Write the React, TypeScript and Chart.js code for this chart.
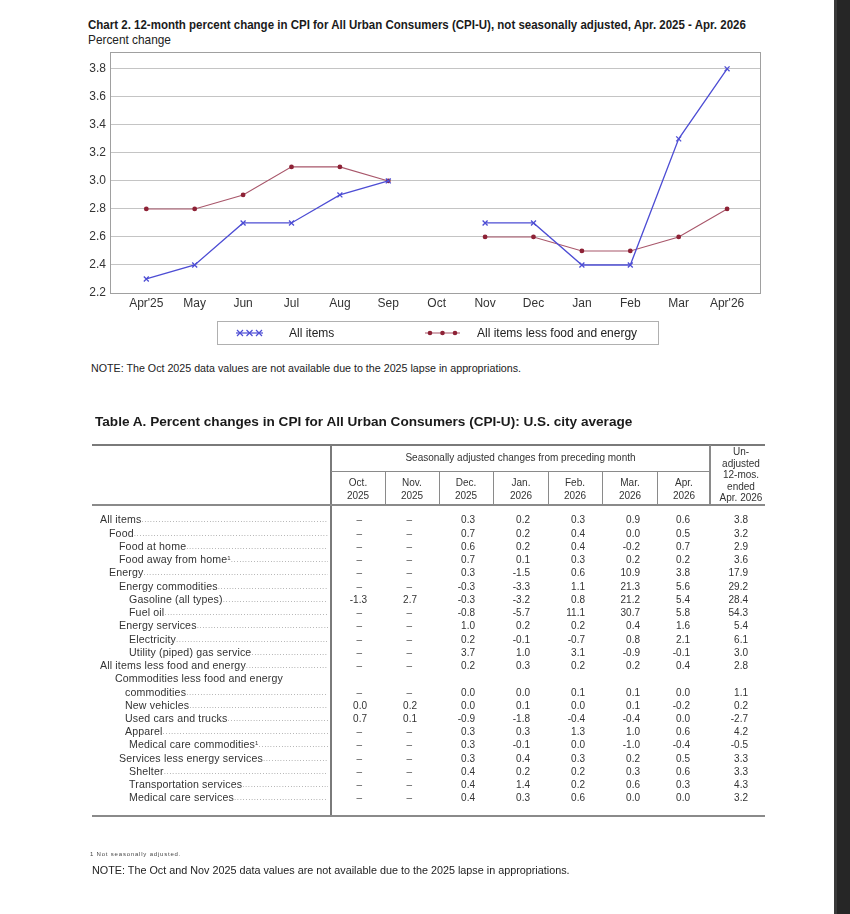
import React, { useEffect, useRef } from "react";
import { Chart, registerables } from "chart.js";

Chart.register(...registerables);

const months = ["Apr'25", "May", "Jun", "Jul", "Aug", "Sep", "Oct", "Nov", "Dec", "Jan", "Feb", "Mar", "Apr'26"];
const allItems = [2.3, 2.4, 2.7, 2.7, 2.9, 3.0, null, 2.7, 2.7, 2.4, 2.4, 3.3, 3.8];
const coreItems = [2.8, 2.8, 2.9, 3.1, 3.1, 3.0, null, 2.6, 2.6, 2.5, 2.5, 2.6, 2.8];
const yTicks = [2.2, 2.4, 2.6, 2.8, 3.0, 3.2, 3.4, 3.6, 3.8];

const rowLabels = [
  "All items", "Food", "Food at home", "Food away from home¹", "Energy", "Energy commodities",
  "Gasoline (all types)", "Fuel oil", "Energy services", "Electricity", "Utility (piped) gas service",
  "All items less food and energy", "Commodities less food and energy|commodities", "New vehicles",
  "Used cars and trucks", "Apparel", "Medical care commodities¹", "Services less energy services",
  "Shelter", "Transportation services", "Medical care services",
];
const rowIndent = [0, 1, 2, 2, 1, 2, 3, 3, 2, 3, 3, 0, 4, 5, 5, 5, 3, 2, 3, 3, 3];
const colHeads = ["Oct.|2025", "Nov.|2025", "Dec.|2025", "Jan.|2026", "Feb.|2026", "Mar.|2026", "Apr.|2026"];
const unadjHead = "Un-|adjusted|12-mos.|ended|Apr. 2026";

const oct = [null, null, null, null, null, null, -1.3, null, null, null, null, null, null, 0.0, 0.7, null, null, null, null, null, null];
const nov = [null, null, null, null, null, null, 2.7, null, null, null, null, null, null, 0.2, 0.1, null, null, null, null, null, null];
const dec = [0.3, 0.7, 0.6, 0.7, 0.3, -0.3, -0.3, -0.8, 1.0, 0.2, 3.7, 0.2, 0.0, 0.0, -0.9, 0.3, 0.3, 0.3, 0.4, 0.4, 0.4];
const jan = [0.2, 0.2, 0.2, 0.1, -1.5, -3.3, -3.2, -5.7, 0.2, -0.1, 1.0, 0.3, 0.0, 0.1, -1.8, 0.3, -0.1, 0.4, 0.2, 1.4, 0.3];
const feb = [0.3, 0.4, 0.4, 0.3, 0.6, 1.1, 0.8, 11.1, 0.2, -0.7, 3.1, 0.2, 0.1, 0.0, -0.4, 1.3, 0.0, 0.3, 0.2, 0.2, 0.6];
const mar = [0.9, 0.0, -0.2, 0.2, 10.9, 21.3, 21.2, 30.7, 0.4, 0.8, -0.9, 0.2, 0.1, 0.1, -0.4, 1.0, -1.0, 0.2, 0.3, 0.6, 0.0];
const apr = [0.6, 0.5, 0.7, 0.2, 3.8, 5.6, 5.4, 5.8, 1.6, 2.1, -0.1, 0.4, 0.0, -0.2, 0.0, 0.6, -0.4, 0.5, 0.6, 0.3, 0.0];
const unadj = [3.8, 3.2, 2.9, 3.6, 17.9, 29.2, 28.4, 54.3, 5.4, 6.1, 3.0, 2.8, 1.1, 0.2, -2.7, 4.2, -0.5, 3.3, 3.3, 4.3, 3.2];

const BLUE = "#4d4dd4";
const MAROON = "#8e2236";
const MAROON_LINE = "#a8566a";

const FONT = "'Liberation Sans', Arial, sans-serif";

const frameAndLegend = {
  id: "frameAndLegend",
  afterDraw(chart: any) {
    const { ctx, chartArea: a } = chart;
    ctx.save();
    ctx.strokeStyle = "#a0a0a0";
    ctx.lineWidth = 1;
    ctx.strokeRect(Math.round(a.left) + 0.5, Math.round(a.top) + 0.5, Math.round(a.right - a.left), Math.round(a.bottom - a.top));
    const ly = 333;
    ctx.strokeStyle = "#b0b0b0";
    ctx.strokeRect(217.5, 321.5, 441, 23);
    ctx.font = "12px " + FONT;
    ctx.fillStyle = "#222";
    ctx.textBaseline = "middle";
    ctx.strokeStyle = BLUE;
    ctx.lineWidth = 1.2;
    ctx.beginPath();
    ctx.moveTo(236, ly);
    ctx.lineTo(263, ly);
    ctx.stroke();
    [240, 249.5, 259].forEach((x) => {
      ctx.beginPath();
      ctx.moveTo(x - 3, ly - 3);
      ctx.lineTo(x + 3, ly + 3);
      ctx.moveTo(x - 3, ly + 3);
      ctx.lineTo(x + 3, ly - 3);
      ctx.stroke();
    });
    ctx.fillText(chart.data.datasets[0].label, 289, ly + 0.5);
    ctx.strokeStyle = MAROON_LINE;
    ctx.beginPath();
    ctx.moveTo(425, ly);
    ctx.lineTo(460, ly);
    ctx.stroke();
    ctx.fillStyle = MAROON;
    [430, 442.5, 455].forEach((x) => {
      ctx.beginPath();
      ctx.arc(x, ly, 2.3, 0, Math.PI * 2);
      ctx.fill();
    });
    ctx.fillStyle = "#222";
    ctx.fillText(chart.data.datasets[1].label, 477, ly + 0.5);
    ctx.restore();
  },
};

function CpiChart() {
  const ref = useRef<HTMLCanvasElement | null>(null);
  useEffect(() => {
    if (!ref.current) return;
    const chart = new Chart(ref.current, {
      type: "line",
      data: {
        datasets: [
          {
            label: "All items",
            data: allItems.map((v, i) => ({ x: i, y: v })),
            borderColor: BLUE,
            backgroundColor: BLUE,
            borderWidth: 1.3,
            pointStyle: "crossRot",
            pointRadius: 3.5,
            pointBorderWidth: 1.3,
            pointBorderColor: BLUE,
            spanGaps: false,
          },
          {
            label: "All items less food and energy",
            data: coreItems.map((v, i) => ({ x: i, y: v })),
            borderColor: MAROON_LINE,
            backgroundColor: MAROON,
            borderWidth: 1.1,
            pointStyle: "circle",
            pointRadius: 2.4,
            pointBorderWidth: 0,
            pointBackgroundColor: MAROON,
            spanGaps: false,
          },
        ],
      },
      options: {
        animation: false,
        responsive: false,
        maintainAspectRatio: false,
        layout: { padding: { left: 80, right: 90, top: 52, bottom: 45 } },
        plugins: { legend: { display: false }, tooltip: { enabled: false }, title: { display: false } },
        scales: {
          x: {
            type: "linear",
            min: -0.75,
            max: 12.68,
            afterBuildTicks: (s: any) => {
              s.ticks = months.map((_, i) => ({ value: i }));
            },
            afterFit: (s: any) => {
              s.height = 22;
            },
            ticks: {
              autoSkip: false,
              maxRotation: 0,
              padding: 3,
              color: "#333",
              font: { family: FONT, size: 12 },
              callback: (v: any) => months[v as number] ?? "",
            },
            grid: { display: false, drawTicks: false },
            border: { display: false },
          },
          y: {
            min: 2.2,
            max: 3.92,
            afterBuildTicks: (s: any) => {
              s.ticks = yTicks.map((v) => ({ value: v }));
            },
            afterFit: (s: any) => {
              s.width = 30;
            },
            ticks: {
              padding: 4,
              color: "#333",
              font: { family: FONT, size: 12 },
              callback: (v: any) => Number(v).toFixed(1),
            },
            grid: { color: "#c4c4c4", lineWidth: 1, drawTicks: false },
            border: { display: false },
          },
        },
      },
      plugins: [frameAndLegend],
    });
    return () => chart.destroy();
  }, []);
  return <canvas ref={ref} width={850} height={360} style={{ position: "absolute", left: 0, top: 0, width: 850, height: 360 }} />;
}

const colRight = [367, 417, 475, 530, 585, 640, 690, 748];
const colCenter = [358, 412, 466, 521, 575, 630, 684, 741];
const colSep = [385, 439, 493, 548, 602, 657];
const indentX = [100, 109, 119, 129, 115, 125];
const LINE0 = 520;
const LH = 13.24;

function Rule({ x, y, w, h, c = "#808080" }: any) {
  return <div style={{ position: "absolute", left: x, top: y, width: w, height: h, background: c }} />;
}

function Label({ text }: { text: string }) {
  const fn = text.includes("¹");
  return (
    <span>
      {text.replace("¹", "")}
      {fn ? <span style={{ fontSize: 6, position: "relative", top: -3 }}>1</span> : null}
    </span>
  );
}

function CpiTable() {
  const cols = [oct, nov, dec, jan, feb, mar, apr, unadj];
  const cells: any[] = [];
  rowLabels.forEach((lab, r) => {
    const parts = lab.split("|");
    const lineIdx = r <= 12 ? r : r + 1;
    const valLine = r === 12 ? 13 : lineIdx;
    parts.forEach((p, k) => {
      const li = lineIdx + k;
      const last = k === parts.length - 1;
      const x = indentX[rowIndent[r]] + (k > 0 ? 10 : 0);
      const top = LINE0 + li * LH - LH / 2;
      cells.push(
        <div
          key={"l" + r + "_" + k}
          style={{
            position: "absolute",
            left: x,
            top,
            width: 328 - x,
            height: LH,
            lineHeight: LH + "px",
            display: "flex",
            whiteSpace: "nowrap",
            overflow: "hidden",
            fontSize: 10.6,
            letterSpacing: 0.15,
            color: "#333",
          }}
        >
          <Label text={p} />
          {last ? (
            <span style={{ flex: 1, overflow: "hidden", color: "#888", fontSize: 8, letterSpacing: 0.6 }}>
              {".".repeat(120)}
            </span>
          ) : null}
        </div>
      );
    });
    cols.forEach((col, c) => {
      const v = col[r];
      const top = LINE0 + valLine * LH - LH / 2;
      cells.push(
        <div
          key={"v" + r + "_" + c}
          style={{
            position: "absolute",
            right: 850 - colRight[c] + (v === null ? 5 : 0),
            top,
            height: LH,
            lineHeight: LH + "px",
            fontSize: 10,
            color: v === null ? "#555" : "#333",
            textAlign: "right",
            whiteSpace: "nowrap",
          }}
        >
          {v === null ? "–" : v.toFixed(1)}
        </div>
      );
    });
  });

  const headCell = (txt: string, cx: number, y0: number, lh: number, key: string) => (
    <div
      key={key}
      style={{
        position: "absolute",
        left: cx - 30,
        width: 60,
        top: y0,
        fontSize: 10,
        lineHeight: lh + "px",
        textAlign: "center",
        color: "#333",
      }}
    >
      {txt.split("|").map((t, i) => (
        <div key={i}>{t}</div>
      ))}
    </div>
  );

  return (
    <div style={{ position: "absolute", left: 0, top: 0, width: 850, height: 914, fontFamily: FONT }}>
      <div
        style={{ position: "absolute", left: 95, top: 414, fontSize: 13.6, fontWeight: "bold", color: "#1a1a1a", whiteSpace: "nowrap" }}
      >
        Table A. Percent changes in CPI for All Urban Consumers (CPI-U): U.S. city average
      </div>
      <Rule x={92} y={444} w={673} h={2} c="#7a7a7a" />
      <Rule x={330} y={445} w={2} h={371} c="#7a7a7a" />
      <Rule x={331} y={471} w={379} h={1} c="#8a8a8a" />
      <Rule x={709} y={445} w={1.5} h={60} c="#8a8a8a" />
      {colSep.map((x, i) => (
        <Rule key={"s" + i} x={x} y={471} w={1} h={34} c="#8a8a8a" />
      ))}
      <Rule x={92} y={504} w={673} h={2} c="#8a8a8a" />
      <Rule x={92} y={815} w={673} h={1.5} c="#8a8a8a" />
      <div
        style={{ position: "absolute", left: 331, width: 379, top: 452, fontSize: 10, textAlign: "center", color: "#333" }}
      >
        Seasonally adjusted changes from preceding month
      </div>
      {colHeads.map((h, i) => headCell(h, colCenter[i], 477, 12.5, "h" + i))}
      {headCell(unadjHead, colCenter[7], 446, 11.6, "hu")}
      {cells}
      <div style={{ position: "absolute", left: 90, top: 851, fontSize: 6, letterSpacing: 0.8, color: "#444" }}>
        1 Not seasonally adjusted.
      </div>
      <div style={{ position: "absolute", left: 92, top: 864, fontSize: 10.8, color: "#222", whiteSpace: "nowrap" }}>
        NOTE: The Oct and Nov 2025 data values are not available due to the 2025 lapse in appropriations.
      </div>
    </div>
  );
}

export default function App() {
  return (
    <div style={{ position: "absolute", left: 0, top: 0, width: 850, height: 914, background: "#fff", overflow: "hidden" }}>
      <div
        style={{
          position: "absolute",
          left: 88,
          top: 17,
          fontFamily: FONT,
          fontWeight: "bold",
          fontSize: 13,
          color: "#1a1a1a",
          whiteSpace: "nowrap",
          transform: "scaleX(0.885)",
          transformOrigin: "0 0",
        }}
      >
        Chart 2. 12-month percent change in CPI for All Urban Consumers (CPI-U), not seasonally adjusted, Apr. 2025 - Apr. 2026
      </div>
      <div
        style={{
          position: "absolute",
          left: 88,
          top: 32,
          fontFamily: FONT,
          fontSize: 13,
          color: "#222",
          whiteSpace: "nowrap",
          transform: "scaleX(0.91)",
          transformOrigin: "0 0",
        }}
      >
        Percent change
      </div>
      <CpiChart />
      <div
        style={{ position: "absolute", left: 91, top: 362, fontFamily: FONT, fontSize: 10.7, color: "#222", whiteSpace: "nowrap" }}
      >
        NOTE: The Oct 2025 data values are not available due to the 2025 lapse in appropriations.
      </div>
      <CpiTable />
      <div style={{ position: "absolute", left: 834, top: 0, width: 16, height: 914, background: "#262626" }} />
      <div style={{ position: "absolute", left: 834, top: 0, width: 3, height: 914, background: "#3a3a3a" }} />
    </div>
  );
}
